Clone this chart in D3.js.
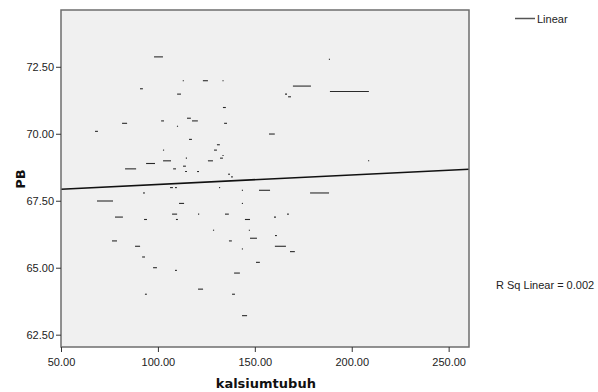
<!DOCTYPE html>
<html>
<head>
<meta charset="utf-8">
<script src="https://cdn.jsdelivr.net/npm/d3@7"></script>
<style>
  body { margin: 0; background: #fff; }
  text { font-family: "Liberation Sans", Arial, sans-serif; }
</style>
</head>
<body>
<div id="chart"></div>
<script>
// kalsiumtubuh (x), PB (y), and how wide each overlapping clump looks along x
var kalsium = [100.3, 91.5, 113.1, 124.5, 133.6, 110.9, 82.8, 102.4, 110.1, 116.0,
  119.1, 134.3, 134.9, 68.3, 116.8, 131.2, 129.7, 102.9, 114.7, 133.6,
  132.8, 127.1, 104.7, 96.2, 85.9, 108.6, 113.7, 114.5, 120.7, 136.7,
  138.2, 158.8, 155.0, 107.0, 109.3, 131.8, 143.6, 92.8, 174.3, 188.5,
  166.1, 167.9, 198.8, 208.7, 183.4, 72.7, 79.9, 93.6, 77.6, 89.5,
  92.6, 98.5, 109.3, 93.8, 122.0, 112.2, 108.6, 109.8, 121.0, 135.6,
  128.7, 137.4, 143.6, 143.6, 146.2, 147.2, 149.3, 151.6, 140.8, 139.0,
  144.7, 160.4, 160.9, 167.1, 163.2, 169.4];
var pb = [72.87, 71.68, 71.98, 71.98, 71.98, 71.48, 70.39, 70.48, 70.28, 70.58,
  70.48, 70.98, 70.39, 70.09, 69.79, 69.59, 69.39, 69.39, 69.09, 69.19,
  69.09, 68.99, 68.99, 68.89, 68.69, 68.69, 68.79, 68.59, 68.59, 68.49,
  68.39, 69.99, 67.89, 67.99, 67.99, 67.99, 67.89, 67.79, 71.78, 72.78,
  71.48, 71.38, 71.58, 68.99, 67.79, 67.49, 66.89, 66.80, 66.00, 65.80,
  65.40, 65.00, 64.90, 64.01, 64.20, 67.40, 67.00, 66.80, 67.00, 67.00,
  66.40, 66.00, 65.70, 67.40, 66.80, 66.40, 66.10, 65.20, 64.80, 64.01,
  63.21, 66.89, 66.20, 67.00, 65.80, 65.60];
var spread = [4.6, 1.5, 0.6, 2.6, 0.6, 2.0, 2.6, 1.5, 0.6, 2.0,
  3.0, 1.5, 1.5, 1.5, 1.5, 1.5, 1.5, 0.6, 0.6, 0.6,
  1.5, 2.6, 4.1, 4.6, 5.7, 1.5, 1.5, 1.0, 1.0, 1.0,
  1.0, 3.0, 5.7, 1.5, 1.0, 0.6, 0.6, 1.0, 9.3, 0.6,
  1.0, 1.5, 20.1, 0.6, 9.8, 8.3, 4.1, 1.5, 2.6, 2.6,
  1.5, 2.0, 1.0, 1.0, 2.6, 2.6, 2.6, 1.0, 0.6, 2.0,
  0.6, 1.5, 0.6, 0.6, 2.6, 0.6, 3.6, 2.0, 3.0, 1.5,
  2.6, 1.0, 1.0, 1.0, 5.7, 2.5];

var xTicks = [50, 100, 150, 200, 250];
var yTicks = [62.5, 65, 67.5, 70, 72.5];

// fit line
var fitIntercept = 67.75;
var fitSlope = 0.00356;
var rSquare = "0.002";

var points = kalsium.map(function (d, i) {
  return { x: d, y: pb[i], s: spread[i] };
});

var margin = { top: 10, right: 129, bottom: 45, left: 61 },
    width = 598 - margin.left - margin.right,
    height = 392 - margin.top - margin.bottom;

var svg = d3.select("#chart")
  .append("svg")
  .attr("width", 598)
  .attr("height", 392);

var g = svg.append("g")
  .attr("transform", "translate(" + margin.left + "," + margin.top + ")");

var x = d3.scaleLinear().domain([50, 260.5]).range([0, width]);
var y = d3.scaleLinear().domain([62.04, 74.62]).range([height, 0]);

// plot background
g.append("rect")
  .attr("width", width)
  .attr("height", height)
  .attr("fill", "#f0f0f0");

// markers
g.selectAll("line.pt")
  .data(points)
  .enter()
  .append("line")
  .attr("class", "pt")
  .attr("x1", function (d) { return x(d.x - d.s / 2); })
  .attr("x2", function (d) { return x(d.x + d.s / 2); })
  .attr("y1", function (d) { return y(d.y); })
  .attr("y2", function (d) { return y(d.y); })
  .attr("stroke", "#2a2a2a")
  .attr("stroke-width", 1.1);

// linear fit
g.append("line")
  .attr("x1", x(50))
  .attr("x2", x(260.5))
  .attr("y1", y(fitIntercept + fitSlope * 50))
  .attr("y2", y(fitIntercept + fitSlope * 260.5))
  .attr("stroke", "#111")
  .attr("stroke-width", 1.6);

// frame
g.append("rect")
  .attr("width", width)
  .attr("height", height)
  .attr("fill", "none")
  .attr("stroke", "#6e6e6e")
  .attr("stroke-width", 1.5);

var yAxis = g.append("g")
  .call(d3.axisLeft(y).tickValues(yTicks).tickFormat(d3.format(".2f")).tickSize(5).tickSizeOuter(0).tickPadding(2));
var xAxis = g.append("g")
  .attr("transform", "translate(0," + height + ")")
  .call(d3.axisBottom(x).tickValues(xTicks).tickFormat(d3.format(".2f")).tickSize(5).tickSizeOuter(0).tickPadding(6));

[xAxis, yAxis].forEach(function (a) {
  a.select(".domain").remove();
  a.selectAll(".tick line").attr("stroke", "#333");
  a.selectAll(".tick text")
    .attr("fill", "#222")
    .style("font-size", "11px")
    .style("font-family", "'Liberation Sans', Arial, sans-serif");
});

// axis titles
svg.append("text")
  .attr("x", margin.left + x(150) + 11)
  .attr("y", 388)
  .attr("text-anchor", "middle")
  .style("font-family", "'DejaVu Sans', sans-serif")
  .style("font-weight", "bold")
  .style("font-size", "13px")
  .attr("fill", "#111")
  .text("kalsiumtubuh");

svg.append("text")
  .attr("transform", "translate(25," + 179 + ") rotate(-90)")
  .attr("text-anchor", "middle")
  .style("font-family", "'DejaVu Sans', sans-serif")
  .style("font-weight", "bold")
  .style("font-size", "13px")
  .attr("fill", "#111")
  .text("PB");

// legend
svg.append("line")
  .attr("x1", 515).attr("x2", 535)
  .attr("y1", 18.5).attr("y2", 18.5)
  .attr("stroke", "#555")
  .attr("stroke-width", 1.5);
svg.append("text")
  .attr("x", 537)
  .attr("y", 22.5)
  .style("font-size", "11px")
  .attr("fill", "#222")
  .text("Linear");

svg.append("text")
  .attr("x", 496)
  .attr("y", 289)
  .style("font-size", "11px")
  .attr("fill", "#222")
  .text("R Sq Linear = " + rSquare);
</script>
</body>
</html>
